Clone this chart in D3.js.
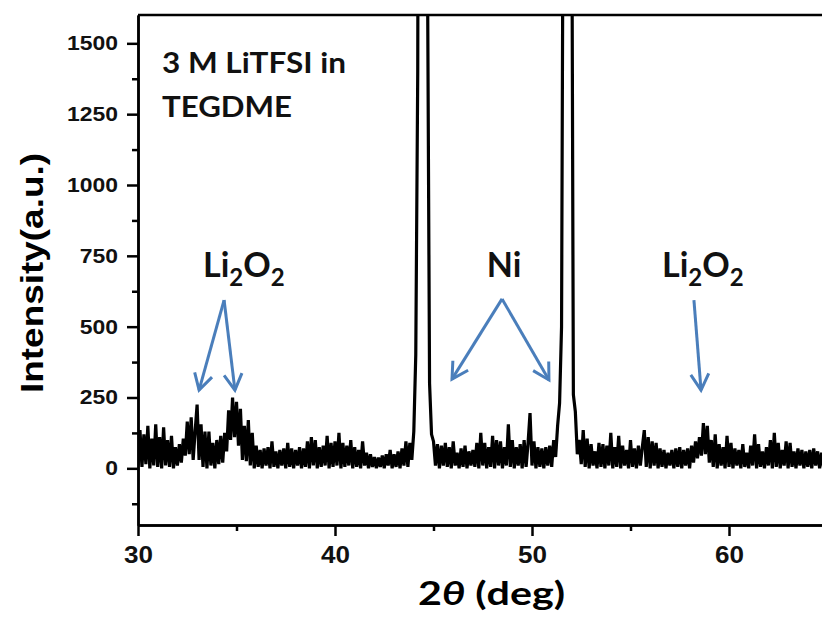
<!DOCTYPE html>
<html>
<head>
<meta charset="utf-8">
<script src="https://cdn.jsdelivr.net/npm/d3@7/dist/d3.min.js"></script>
<style>
  body { margin: 0; background: #fff; }
</style>
</head>
<body>
<div id="chart"></div>
<script>
// XRD trace, one value per 0.1 deg from 30.0 to 65.0
const thetaStart = 30;
const thetaStep = 0.1;
const intensity = [
  10,135,5,120,15,150,0,105,10,155,          // 30
  5,110,0,145,10,100,5,115,0,75,             // 31
  10,85,20,105,45,165,50,180,30,130,         // 32
  225,30,155,5,130,0,130,10,90,0,            // 33
  100,15,115,20,125,60,205,100,250,110,      // 34
  235,80,210,30,150,25,170,10,125,0,         // 35
  80,5,65,0,70,10,75,0,95,5,                 // 36
  60,0,65,10,70,0,90,5,70,0,                 // 37
  65,10,75,0,70,5,95,0,110,10,               // 38
  100,0,75,5,80,10,115,0,90,5,               // 39
  95,10,125,0,90,5,80,10,100,0,              // 40
  75,5,65,0,95,10,55,0,50,5,                 // 41
  40,0,38,5,45,0,50,10,65,0,                 // 42
  50,5,60,0,70,10,95,5,90,30,                // 43
  130,400,1400,5000,8000,8000,5000,1700,300,120, // 44
  95,10,85,0,80,10,90,5,75,0,                // 45
  95,10,55,0,70,5,80,0,60,10,                // 46
  65,5,90,0,125,10,90,0,75,5,                // 47
  115,0,100,10,95,0,75,10,155,5,             // 48
  100,0,75,10,85,0,100,5,90,195,             // 49
  10,95,0,75,5,70,0,75,10,80,                // 50
  5,100,40,150,230,500,2500,5000,6000,5000,  // 51
  2500,260,200,50,100,15,135,5,105,0,        // 52
  85,10,60,0,90,5,85,0,80,10,                // 53
  125,0,75,5,115,0,80,10,65,0,               // 54
  100,5,70,0,80,10,75,135,5,110,             // 55
  0,95,10,90,0,70,5,65,0,55,                 // 56
  10,65,0,70,5,75,0,65,10,70,                // 57
  0,80,20,95,35,110,45,160,50,150,           // 58
  20,100,5,120,0,85,10,75,0,115,             // 59
  5,90,0,70,10,65,0,85,5,55,                 // 60
  0,80,10,120,0,85,5,60,0,75,                // 61
  10,100,0,125,5,90,0,65,10,95,              // 62
  0,90,5,60,0,70,10,65,0,60,                 // 63
  5,65,0,70,10,60,0,55,5,60,                 // 64
  0                                          // 65
];

const xTicks = [30, 40, 50, 60];
const xMinorTicks = [35, 45, 55, 65];
const yTicks = [0, 250, 500, 750, 1000, 1250, 1500];
const yMinorTicks = [-125, 125, 375, 625, 875, 1125, 1375];

// peak labels (2theta, intensity) and their arrows
const peakLabels = [
  {parts: [["Li", 0], ["2", 1], ["O", 0], ["2", 1]], at: [33.3, 675]},
  {parts: [["Ni", 0]], at: [47.7, 675]},
  {parts: [["Li", 0], ["2", 1], ["O", 0], ["2", 1]], at: [56.6, 675]}
];
const arrowFrom = [[34.37, 594], [34.37, 594], [48.48, 598], [48.48, 598], [58.22, 594]];
const arrowTo   = [[33.10, 276], [34.92, 276], [45.94, 315], [50.86, 312], [58.58, 276]];
const sampleText = ["3 M LiTFSI in", "TEGDME"];
const sampleTextAt = [[31.22, 1395], [31.22, 1240]];

const margin = {top: 15, left: 138, bottom: 93};
const svgW = 822, svgH = 618;
const width = 35 * 19.7;           // right end runs past the window, as in the picture
const height = svgH - margin.top - margin.bottom;
const blue = "#4a7ebb";

const data = intensity.map((v, i) => ({x: thetaStart + i * thetaStep, y: v}));

const svg = d3.select("#chart").append("svg")
  .attr("width", svgW)
  .attr("height", svgH);

const defs = svg.append("defs");
defs.append("clipPath").attr("id", "plotClip")
  .append("rect").attr("x", 0).attr("y", 0).attr("width", width).attr("height", height);
defs.append("marker")
  .attr("id", "head")
  .attr("markerUnits", "userSpaceOnUse")
  .attr("viewBox", "-20 -12 24 24")
  .attr("markerWidth", 24).attr("markerHeight", 24)
  .attr("refX", 0).attr("refY", 0)
  .attr("orient", "auto")
  .append("path")
  .attr("d", "M-16,-9 L0,0 L-16,9")
  .attr("fill", "none")
  .attr("stroke", blue)
  .attr("stroke-width", 3)
  .attr("stroke-linejoin", "miter");

const g = svg.append("g")
  .attr("transform", `translate(${margin.left},${margin.top})`);

const x = d3.scaleLinear().domain([30, 65]).range([0, width]);
const y = d3.scaleLinear().domain([-200, 1600]).range([height, 0]);

// trace
g.append("path")
  .datum(data)
  .attr("clip-path", "url(#plotClip)")
  .attr("fill", "none")
  .attr("stroke", "#000")
  .attr("stroke-width", 3.2)
  .attr("stroke-linejoin", "miter")
  .attr("stroke-miterlimit", 2)
  .attr("d", d3.line().x(d => x(d.x)).y(d => y(d.y)));

// axes
const digitW = 12.75;
const yAxis = g.append("g")
  .call(d3.axisLeft(y).tickValues(yTicks).tickFormat(d3.format("d"))
    .tickSize(11).tickSizeOuter(0).tickPadding(9));
yAxis.selectAll("text")
  .attr("font-family", "'Liberation Sans', Arial, sans-serif")
  .attr("font-weight", "bold")
  .attr("font-size", 20)
  .attr("fill", "#111")
  .attr("textLength", d => String(d).length * digitW)
  .attr("lengthAdjust", "spacingAndGlyphs");

g.append("g")
  .call(d3.axisLeft(y).tickValues(yMinorTicks).tickSize(6).tickSizeOuter(0).tickFormat(""));

const xAxis = g.append("g")
  .attr("transform", `translate(0,${height})`)
  .call(d3.axisBottom(x).tickValues(xTicks).tickSize(11).tickSizeOuter(0).tickPadding(10));
xAxis.selectAll("text")
  .attr("font-family", "'Liberation Sans', Arial, sans-serif")
  .attr("font-weight", "bold")
  .attr("font-size", 24)
  .attr("fill", "#111")
  .attr("textLength", d => String(d).length * 14.5)
  .attr("lengthAdjust", "spacingAndGlyphs");

g.append("g")
  .attr("transform", `translate(0,${height})`)
  .call(d3.axisBottom(x).tickValues(xMinorTicks).tickSize(6).tickSizeOuter(0).tickFormat(""));

g.selectAll(".domain").attr("stroke-width", 2.5);
g.selectAll(".tick line").attr("stroke-width", 2.5);

// top frame line
g.append("line")
  .attr("x1", 0).attr("x2", width)
  .attr("y1", 0).attr("y2", 0)
  .attr("stroke", "#000").attr("stroke-width", 2.5);

// axis titles
svg.append("text")
  .attr("transform", `translate(43,273) rotate(-90)`)
  .attr("text-anchor", "middle")
  .attr("font-family", "'Liberation Sans', Arial, sans-serif")
  .attr("font-weight", "bold")
  .attr("font-size", 32)
  .attr("textLength", 240)
  .attr("lengthAdjust", "spacingAndGlyphs")
  .text("Intensity(a.u.)");

const xTitle = svg.append("text")
  .attr("x", 418).attr("y", 605)
  .attr("font-family", "Lato, 'Open Sans', sans-serif")
  .attr("font-weight", "bold")
  .attr("font-size", 33)
  .attr("textLength", 147)
  .attr("lengthAdjust", "spacingAndGlyphs");
xTitle.append("tspan").text("2");
xTitle.append("tspan").attr("font-style", "italic").text("θ");
xTitle.append("tspan").text(" (deg)");

// sample description
const sampleWidths = [184, 130];
g.selectAll(".sample")
  .data(sampleText)
  .join("text")
  .attr("class", "sample")
  .attr("x", (d, i) => x(sampleTextAt[i][0]))
  .attr("y", (d, i) => y(sampleTextAt[i][1]))
  .attr("font-family", "Lato, 'Open Sans', sans-serif")
  .attr("font-weight", "bold")
  .attr("font-size", 29)
  .attr("fill", "#111")
  .attr("textLength", (d, i) => sampleWidths[i])
  .attr("lengthAdjust", "spacingAndGlyphs")
  .text(d => d);

// peak labels
const lab = g.selectAll(".peakLabel")
  .data(peakLabels)
  .join("text")
  .attr("class", "peakLabel")
  .attr("x", d => x(d.at[0]))
  .attr("y", d => y(d.at[1]))
  .attr("font-family", "Lato, 'Open Sans', sans-serif")
  .attr("font-weight", "bold")
  .attr("font-size", 34)
  .attr("fill", "#111");
lab.selectAll("tspan")
  .data(d => d.parts)
  .join("tspan")
  .attr("font-size", p => p[1] ? 24 : 34)
  .attr("dy", (p, i, nodes) => {
    const prev = i > 0 ? d3.select(nodes[i - 1]).datum()[1] : 0;
    if (p[1] && !prev) return 9;
    if (!p[1] && prev) return -9;
    return 0;
  })
  .text(p => p[0]);

// arrows
g.selectAll(".arrow")
  .data(arrowFrom)
  .join("line")
  .attr("class", "arrow")
  .attr("x1", d => x(d[0]))
  .attr("y1", d => y(d[1]))
  .attr("x2", (d, i) => x(arrowTo[i][0]))
  .attr("y2", (d, i) => y(arrowTo[i][1]))
  .attr("stroke", blue)
  .attr("stroke-width", 3)
  .attr("marker-end", "url(#head)");
</script>
</body>
</html>
